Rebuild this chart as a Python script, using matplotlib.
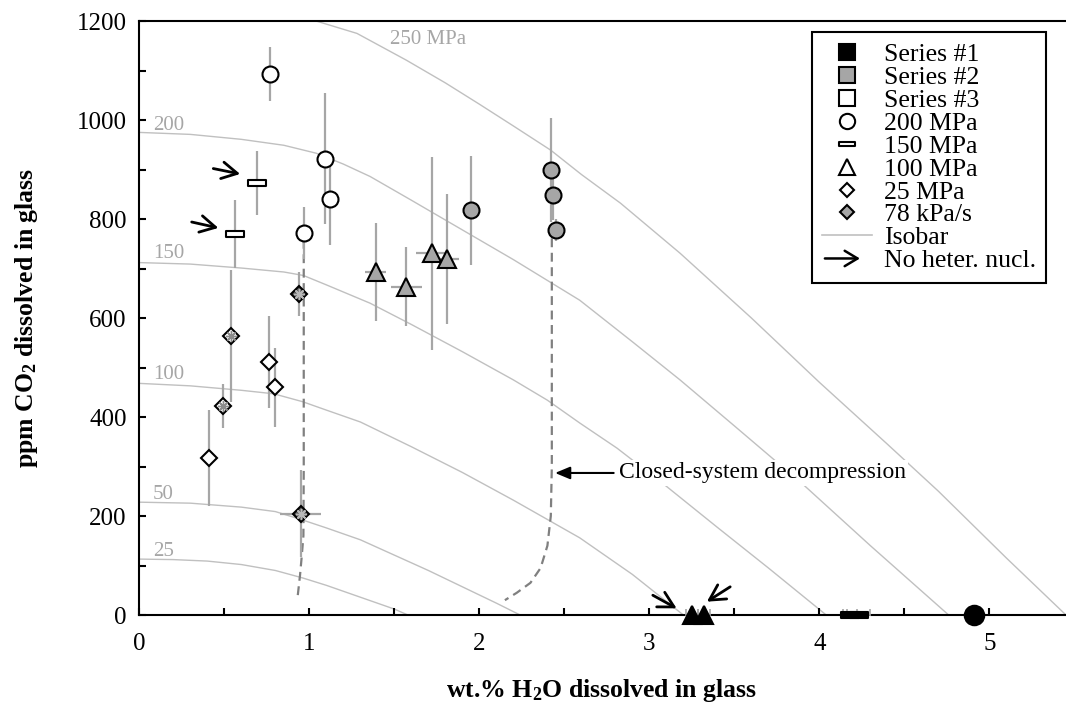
import matplotlib
matplotlib.use('Agg')
import matplotlib.pyplot as plt
from matplotlib.path import Path
from matplotlib.lines import Line2D
from matplotlib.legend_handler import HandlerBase
from matplotlib.patches import FancyArrowPatch

plt.rcParams['font.family'] = ['Liberation Serif', 'DejaVu Serif']
plt.rcParams['mathtext.fontset'] = 'custom'
plt.rcParams['mathtext.rm'] = 'Liberation Serif'
plt.rcParams['mathtext.bf'] = 'Liberation Serif:bold'
plt.rcParams['mathtext.it'] = 'Liberation Serif:italic'

# ---------------- data ----------------
iso_labels = ['25', '50', '100', '150', '200', '250 MPa']
iso25_x = [0, 0.2, 0.4, 0.6, 0.8, 0.96, 1.1, 1.25, 1.4, 1.5, 1.58]
iso25_y = [113, 112, 109, 102, 90, 75, 60, 42, 24, 12, 0]
iso50_x = [0, 0.3, 0.6, 0.8, 0.96, 1.1, 1.3, 1.5, 1.7, 1.9, 2.1, 2.24]
iso50_y = [228, 226, 218, 209, 192, 176, 152, 121, 90, 57, 24, 0]
iso100_x = [0, 0.3, 0.6, 0.79, 0.96, 1.1, 1.3, 1.6, 1.9, 2.2, 2.59, 2.9, 3.2]
iso100_y = [468, 463, 454, 447, 431, 414, 390, 340, 288, 232, 156, 82, 0]
iso150_x = [0, 0.3, 0.6, 0.85, 0.965, 1.1, 1.357, 1.6, 1.9, 2.2, 2.4, 2.59, 2.81, 3.1, 3.4, 3.7, 4.04]
iso150_y = [712, 709, 701, 693, 686, 667, 630, 587, 532, 475, 434, 388, 337, 260, 177, 95, 0]
iso200_x = [0, 0.3, 0.6, 0.85, 1.04, 1.2, 1.357, 1.6, 1.9, 2.2, 2.59, 2.9, 3.18, 3.5, 3.9, 4.3, 4.76]
iso200_y = [975, 971, 961, 949, 933, 911, 886, 838, 778, 718, 636, 552, 475, 382, 265, 140, 0]
iso250_x = [0, 0.5, 0.85, 1.04, 1.28, 1.57, 1.8, 2.0, 2.2, 2.42, 2.6, 2.83, 3.18, 3.6, 4.0, 4.4, 4.7, 5.1, 5.45]
iso250_y = [1245, 1235, 1215, 1200, 1175, 1121, 1075, 1032, 988, 939, 890, 832, 731, 600, 470, 345, 250, 115, 0]
iso_label_x = [0.08, 0.08, 0.08, 0.08, 0.08, 1.475]
iso_label_y = [128, 243, 485, 731, 989, 1162]

# closed-system decompression paths
csd1_x = [0.967, 0.967, 0.965, 0.955, 0.945, 0.93]
csd1_y = [758, 300, 160, 118, 80, 34]
csd2_x = [2.426, 2.426, 2.42, 2.40, 2.36, 2.30, 2.22, 2.15]
csd2_y = [761, 300, 200, 140, 95, 65, 45, 30]

# Series #3 (open symbols)
s3_circ_x = [0.77, 1.09, 1.12, 0.97]
s3_circ_y = [1093, 922, 840, 772]
s3_circ_err = [55, 132, 93, 53]
s3_dash_x = [0.69, 0.56]
s3_dash_y = [873, 770]
s3_dash_err = [64, 68]
s3_dia_x = [0.41, 0.49, 0.54, 0.76, 0.80]
s3_dia_y = [318, 422, 564, 512, 460]
s3_dia_err = [97, 45, 133, 93, 80]
s3_star_x = [0.49, 0.54]
s3_star_y = [422, 564]

# Series #2 (grey symbols)
s2_circ_x = [1.95, 2.42, 2.43, 2.45]
s2_circ_y = [818, 900, 848, 778]
s2_circ_err = [110, 105, 50, 22]
s2_tri_x = [1.39, 1.57, 1.72, 1.81]
s2_tri_y = [693, 663, 731, 719]
s2_tri_yerr = [98, 80, 195, 132]
s2_tri_xerr = [0.06, 0.09, 0.09, 0.07]
s2_dia_x = [0.94, 0.95]
s2_dia_y = [648, 205]
s2_dia_yerr = [44, 88]
s2_dia_xerr = [0.0, 0.12]

# Series #1 (black symbols, no CO2)
s1_tri_x = [3.25, 3.32]
s1_tri_y = [0, 0]
s1_tri_xerr = [0.035, 0.037]
s1_dash_x = [4.18, 4.23]
s1_dash_y = [0, 0]
s1_dash_xerr = [0.04, 0.07]
s1_circ_x = [4.91]
s1_circ_y = [0]

# "no heterogeneous nucleation" arrows
nohet_tail_x = [0.435, 0.308, 3.02, 3.475]
nohet_tail_y = [902, 794, 40, 57]
nohet_tip_x = [0.593, 0.465, 3.16, 3.338]
nohet_tip_y = [891, 782, 13.5, 27]

xticks = [0, 1, 2, 3, 4, 5]
yticks = [0, 200, 400, 600, 800, 1000, 1200]

# ---------------- style ----------------
GREY_FILL = '#a6a6a6'
ERR = '#a6a6a6'
ISO = '#c0c0c0'
ISO_TXT = '#a6a6a6'
FS = 18

dash_marker = Path([(-1, -0.3), (1, -0.3), (1, 0.3), (-1, 0.3), (-1, -0.3)],
                   [Path.MOVETO, Path.LINETO, Path.LINETO, Path.LINETO, Path.CLOSEPOLY])

fig = plt.figure(figsize=(10.66, 7.13), dpi=100)
ax = fig.add_axes([0.1307, 0.1374, 0.8693, 0.8331])
ax.set_xlim(0, 5.45)
ax.set_ylim(0, 1200)

# isobars
for xs, ys in [(iso25_x, iso25_y), (iso50_x, iso50_y), (iso100_x, iso100_y),
               (iso150_x, iso150_y), (iso200_x, iso200_y), (iso250_x, iso250_y)]:
    ax.plot(xs, ys, color=ISO, lw=1.0, zorder=1)
for lab, lx, ly in zip(iso_labels, iso_label_x, iso_label_y):
    ax.text(lx, ly, lab, color=ISO_TXT, fontsize=15, ha='left', va='center', zorder=1)

# closed-system decompression paths
for xs, ys in [(csd1_x, csd1_y), (csd2_x, csd2_y)]:
    ax.plot(xs, ys, color='#808080', lw=1.6, ls=(0, (4, 2.5)), zorder=2)

ekw = dict(fmt='none', ecolor=ERR, elinewidth=1.6, capsize=0, zorder=3)
ax.errorbar(s3_circ_x, s3_circ_y, yerr=s3_circ_err, **ekw)
ax.errorbar(s3_dash_x, s3_dash_y, yerr=s3_dash_err, **ekw)
ax.errorbar(s3_dia_x, s3_dia_y, yerr=s3_dia_err, **ekw)
ax.errorbar(s2_circ_x, s2_circ_y, yerr=s2_circ_err, **ekw)
ax.errorbar(s2_tri_x, s2_tri_y, yerr=s2_tri_yerr, xerr=s2_tri_xerr, **ekw)
ax.errorbar(s2_dia_x, s2_dia_y, yerr=s2_dia_yerr, xerr=s2_dia_xerr, **ekw)
ckw = dict(fmt='none', ecolor=ERR, elinewidth=1.2, capsize=4, capthick=1.2, zorder=3)
ax.errorbar(s1_tri_x, s1_tri_y, xerr=s1_tri_xerr, **ckw)
ax.errorbar(s1_dash_x, s1_dash_y, xerr=s1_dash_xerr, **ckw)

mkw = dict(ls='none', mec='black', mew=1.5, zorder=4, clip_on=False)
# Series 3
ax.plot(s3_circ_x, s3_circ_y, marker='o', ms=11.5, mfc='white', **mkw)
ax.plot(s3_dash_x, s3_dash_y, marker=dash_marker, ms=12.5, mfc='white', **mkw)
ax.plot(s3_dia_x, s3_dia_y, marker='D', ms=8, mfc='white', **mkw)
ax.plot(s3_star_x, s3_star_y, ls='none', marker=(8, 2, 0), ms=8, mec='#8c8c8c', mew=1.0, zorder=5)
# Series 2
ax.plot(s2_circ_x, s2_circ_y, marker='o', ms=11.5, mfc=GREY_FILL, **mkw)
ax.plot(s2_tri_x, s2_tri_y, marker='^', ms=12.5, mfc=GREY_FILL, **mkw)
ax.plot(s2_dia_x, s2_dia_y, marker='D', ms=8, mfc='#606060', **mkw)
ax.plot(s2_dia_x, s2_dia_y, ls='none', marker=(8, 2, 0), ms=8, mec='#b8b8b8', mew=1.0, zorder=5)
# Series 1
ax.plot(s1_tri_x, s1_tri_y, marker='^', ms=13, mfc='black', **mkw)
ax.plot(s1_dash_x, s1_dash_y, marker=dash_marker, ms=12.5, mfc='black', **mkw)
ax.plot(s1_circ_x, s1_circ_y, marker='o', ms=14, mfc='black', **mkw)

# arrows (no heterogeneous nucleation)
for tx, ty, hx, hy in zip(nohet_tail_x, nohet_tail_y, nohet_tip_x, nohet_tip_y):
    ax.annotate('', xy=(hx, hy), xytext=(tx, ty),
                arrowprops=dict(arrowstyle='->,head_length=0.55,head_width=0.3',
                                lw=2.0, color='black', shrinkA=0, shrinkB=0,
                                mutation_scale=20),
                zorder=6, annotation_clip=False)

# closed-system annotation
ax.annotate('Closed-system decompression', xy=(2.445, 287), xytext=(2.82, 287),
            fontsize=17, ha='left', va='center', zorder=7,
            bbox=dict(boxstyle='square,pad=0.1', fc='white', ec='none'),
            arrowprops=dict(arrowstyle='-|>,head_length=0.6,head_width=0.25',
                            lw=1.5, color='black', shrinkA=2, shrinkB=0, mutation_scale=15))

# axes styling
for side in ['left', 'bottom', 'top']:
    ax.spines[side].set_linewidth(1.5)
    ax.spines[side].set_color('black')
ax.spines['right'].set_visible(False)
ax.set_xticks(xticks)
ax.set_xticks([0.5 * i for i in range(1, 11)], minor=True)
ax.set_yticks(yticks)
ax.set_yticks(list(range(100, 1200, 200)), minor=True)
ax.tick_params(which='both', direction='in', length=5, width=1.5, top=False, right=False)
ax.tick_params(axis='x', which='major', labelsize=FS, pad=13)
ax.tick_params(axis='y', which='major', labelsize=FS, pad=9)

ax.set_xlabel('wt.% H$_\\mathbf{2}$O dissolved in glass', fontsize=18.5, fontweight='bold')
ax.set_ylabel('ppm CO$_\\mathbf{2}$ dissolved in glass', fontsize=18.5, fontweight='bold')
ax.xaxis.set_label_coords(0.499, -0.105)
ax.yaxis.set_label_coords(-0.107, 0.5)


class ArrowHandler(HandlerBase):
    def create_artists(self, legend, orig_handle, xdescent, ydescent, width, height, fontsize, trans):
        y = height / 2 - ydescent
        p = FancyArrowPatch((0.05 * width - xdescent, y), (0.75 * width - xdescent, y),
                            arrowstyle='->,head_length=0.5,head_width=0.3', mutation_scale=fontsize,
                            lw=1.8, color='black', transform=trans, shrinkA=0, shrinkB=0)
        return [p]


lkw = dict(ls='none', mec='black', mew=1.5)
arrow_proxy = Line2D([], [], color='black')
handles = [
    Line2D([], [], marker='s', ms=11, mfc='black', **lkw),
    Line2D([], [], marker='s', ms=11, mfc=GREY_FILL, **lkw),
    Line2D([], [], marker='s', ms=11, mfc='white', **lkw),
    Line2D([], [], marker='o', ms=11, mfc='white', **lkw),
    Line2D([], [], marker=dash_marker, ms=11, mfc='white', **lkw),
    Line2D([], [], marker='^', ms=11, mfc='white', **lkw),
    Line2D([], [], marker='D', ms=7.5, mfc='white', **lkw),
    Line2D([], [], marker='D', ms=7.5, mfc=GREY_FILL, **lkw),
    Line2D([], [], color=ISO, lw=1.2),
    arrow_proxy,
]
labels = ['Series #1', 'Series #2', 'Series #3', '200 MPa', '150 MPa', '100 MPa',
          '25 MPa', '78 kPa/s', 'Isobar', 'No heter. nucl.']
leg = ax.legend(handles, labels, loc='upper left', bbox_to_anchor=(0.726, 0.981),
                fontsize=18.5, frameon=True, fancybox=False, framealpha=1, edgecolor='black',
                borderpad=0.4, labelspacing=0.0, handlelength=1.95, handletextpad=0.45,
                borderaxespad=0, handler_map={arrow_proxy: ArrowHandler()})
leg.get_frame().set_linewidth(1.5)
leg.set_zorder(10)

fig.savefig('out.png', dpi=100)
